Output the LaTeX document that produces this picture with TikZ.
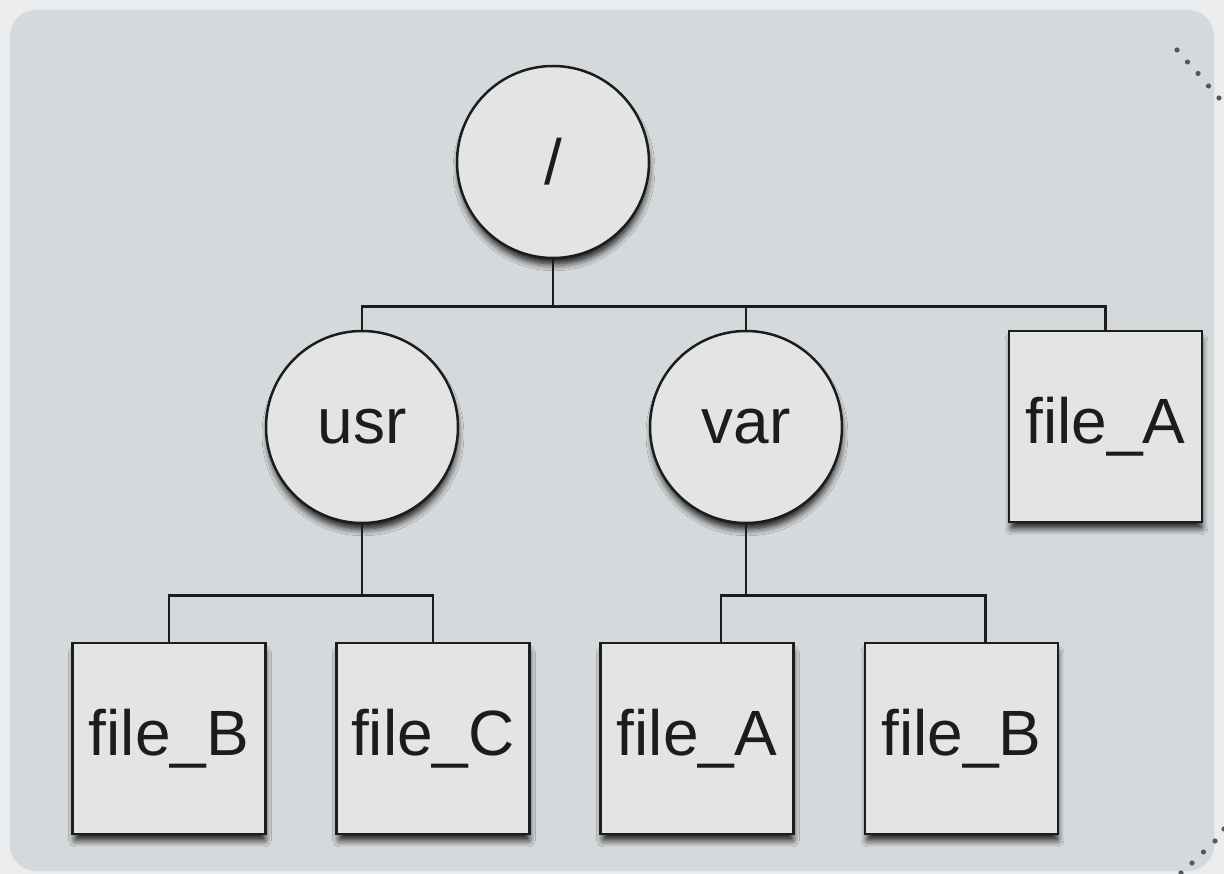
\documentclass[tikz,border=0pt]{standalone}
\usepackage{fontspec}
\setmainfont{Liberation Sans}
\usetikzlibrary{shadows.blur}
\definecolor{outerbg}{HTML}{EAECEE}
\definecolor{panelbg}{HTML}{D6D9DB}
\definecolor{nodefill}{HTML}{E3E5E5}
\definecolor{linecol}{HTML}{1C1C1C}
\definecolor{dotcol}{HTML}{555759}
\tikzset{
  x=1pt, y=-1pt,
  base/.style={draw=linecol, line width=2.5pt, fill=nodefill, inner sep=0pt,
    font=\fontsize{64}{76}\selectfont, text=linecol,
    blur shadow={shadow xshift=1pt, shadow yshift=-8pt, shadow scale=0.98, shadow blur radius=7pt, shadow blur steps=8, shadow opacity=95}},
  dirnode/.style={base, circle, minimum size=192pt},
  filenode/.style={base, rectangle, minimum width=193pt, minimum height=191pt},
  conn/.style={draw=linecol, line width=2.5pt},
  deco/.style={fill=dotcol, draw=none}
}
\begin{document}
\begin{tikzpicture}
\useasboundingbox (0,0) rectangle (1224,874);
\fill[outerbg] (0,0) rectangle (1224,874);
\fill[panelbg, rounded corners=26pt] (10,10) rectangle (1214,871);
% decorative dots
\foreach \px/\py in {1177/50, 1187.5/62, 1198/73.5, 1208.5/86, 1219/98}
  \fill[deco] (\px,\py) circle (2.6pt);
\foreach \px/\py in {1224/829, 1215/841, 1203.5/852, 1192/863, 1181/873}
  \fill[deco] (\px,\py) circle (2.6pt);
% nodes
\node[dirnode] (root) at (553,162) {/};
\node[dirnode] (usr) at (362,427) {usr};
\node[dirnode] (var) at (746,427) {var};
\node[filenode] (fA1) at (1105.5,426.5) {file\_A};
\node[filenode] (fB1) at (169,738.5) {file\_B};
\node[filenode] (fC) at (433,738.5) {file\_C};
\node[filenode] (fA2) at (697,738.5) {file\_A};
\node[filenode] (fB2) at (961.5,738.5) {file\_B};
% junction coordinates
\coordinate (j1) at (553,306.5);
\coordinate (j2) at (362,595.5);
\coordinate (j3) at (746,595.5);
% connectors
\draw[conn] (root.south) -- (j1);
\draw[conn] (usr.north) -- (usr.north |- j1) -- (fA1.north |- j1) -- (fA1.north);
\draw[conn] (var.north) -- (var.north |- j1);
\draw[conn] (usr.south) -- (j2);
\draw[conn] (fB1.north) -- (fB1.north |- j2) -- (fC.north |- j2) -- (fC.north);
\draw[conn] (var.south) -- (j3);
\draw[conn] ([xshift=24pt]fA2.north) -- ([xshift=24pt]fA2.north |- j3) -- ([xshift=24pt]fB2.north |- j3) -- ([xshift=24pt]fB2.north);
\end{tikzpicture}
\end{document}
